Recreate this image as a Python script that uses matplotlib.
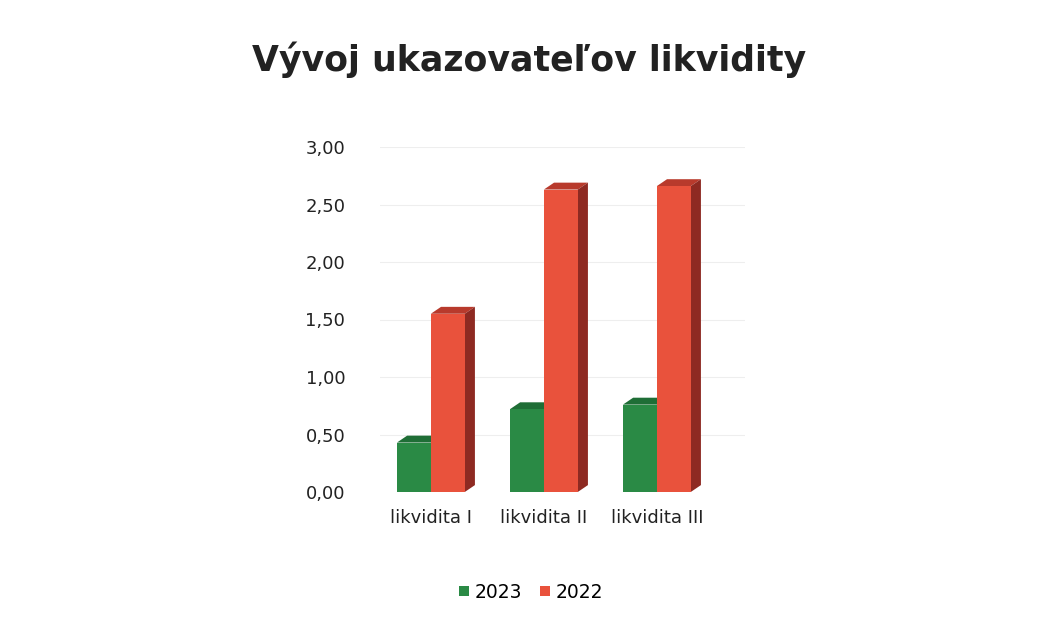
import matplotlib
matplotlib.use("Agg")
import matplotlib.pyplot as plt
from matplotlib.patches import Polygon
import numpy as np

categories = ["likvidita I", "likvidita II", "likvidita III"]
series_names = ["2023", "2022"]
values_2023 = [0.43, 0.72, 0.76]
values_2022 = [1.55, 2.63, 2.66]
yticks = [0.0, 0.5, 1.0, 1.5, 2.0, 2.5, 3.0]
ytick_labels = ["0,00", "0,50", "1,00", "1,50", "2,00", "2,50", "3,00"]
title = "Vývoj ukazovateľov likvidity"

front = {"2023": "#2a8a45", "2022": "#e9523c"}
top_c = {"2023": "#1f6e36", "2022": "#b83a2c"}
side_c = {"2023": "#17552a", "2022": "#8e2a22"}

fig = plt.figure(figsize=(10.37, 6.21), dpi=100)
fig.patch.set_facecolor("white")
ax = fig.add_axes([380/1037, 1-492/621, (745-380)/1037, (492-147)/621])
ax.set_xlim(-0.45, 2.78)
ax.set_ylim(0, 3)

x = np.arange(len(categories))
w = 0.3
dx = 0.09   # depth offset in x (data units)
dy = 0.06   # depth offset in y (data units)

for gy in yticks[1:]:
    ax.axhline(gy, color="#eeeeee", lw=0.8, zorder=0)

for i, (name, vals) in enumerate(zip(series_names, [values_2023, values_2022])):
    bars = ax.bar(x + (i - 0.5)*w, vals, width=w, color=front[name],
                  zorder=3 + i*2, label=name, linewidth=0)
    for b, v in zip(bars, vals):
        x0 = b.get_x(); x1 = x0 + b.get_width()
        topface = Polygon([[x0, v], [x1, v], [x1 + dx, v + dy], [x0 + dx, v + dy]],
                          closed=True, color=top_c[name], zorder=2 + i*2, lw=0)
        sideface = Polygon([[x1, 0], [x1 + dx, dy], [x1 + dx, v + dy], [x1, v]],
                           closed=True, color=side_c[name], zorder=2 + i*2, lw=0)
        ax.add_patch(topface)
        ax.add_patch(sideface)

ax.set_xticks(x + 0.0)
ax.set_xticklabels(categories, fontsize=13, color="#222222")
ax.set_yticks(yticks)
ax.set_yticklabels(ytick_labels, fontsize=13, color="#222222")
ax.tick_params(axis="both", length=0)
ax.tick_params(axis="y", pad=25)
ax.tick_params(axis="x", pad=12)
for s in ax.spines.values():
    s.set_visible(False)

fig.text(529/1037, 1-60/621, title, ha="center", va="center",
         fontsize=25, fontweight="bold", color="#222222")

handles, labels = ax.get_legend_handles_labels()
fig.legend(handles, labels, loc="center", bbox_to_anchor=(531/1037, 1-592/621),
           ncol=2, frameon=False, fontsize=13.5, handlelength=0.5, handleheight=0.5,
           handletextpad=0.3, columnspacing=1.0)

fig.savefig("out.png", dpi=100, facecolor="white")
